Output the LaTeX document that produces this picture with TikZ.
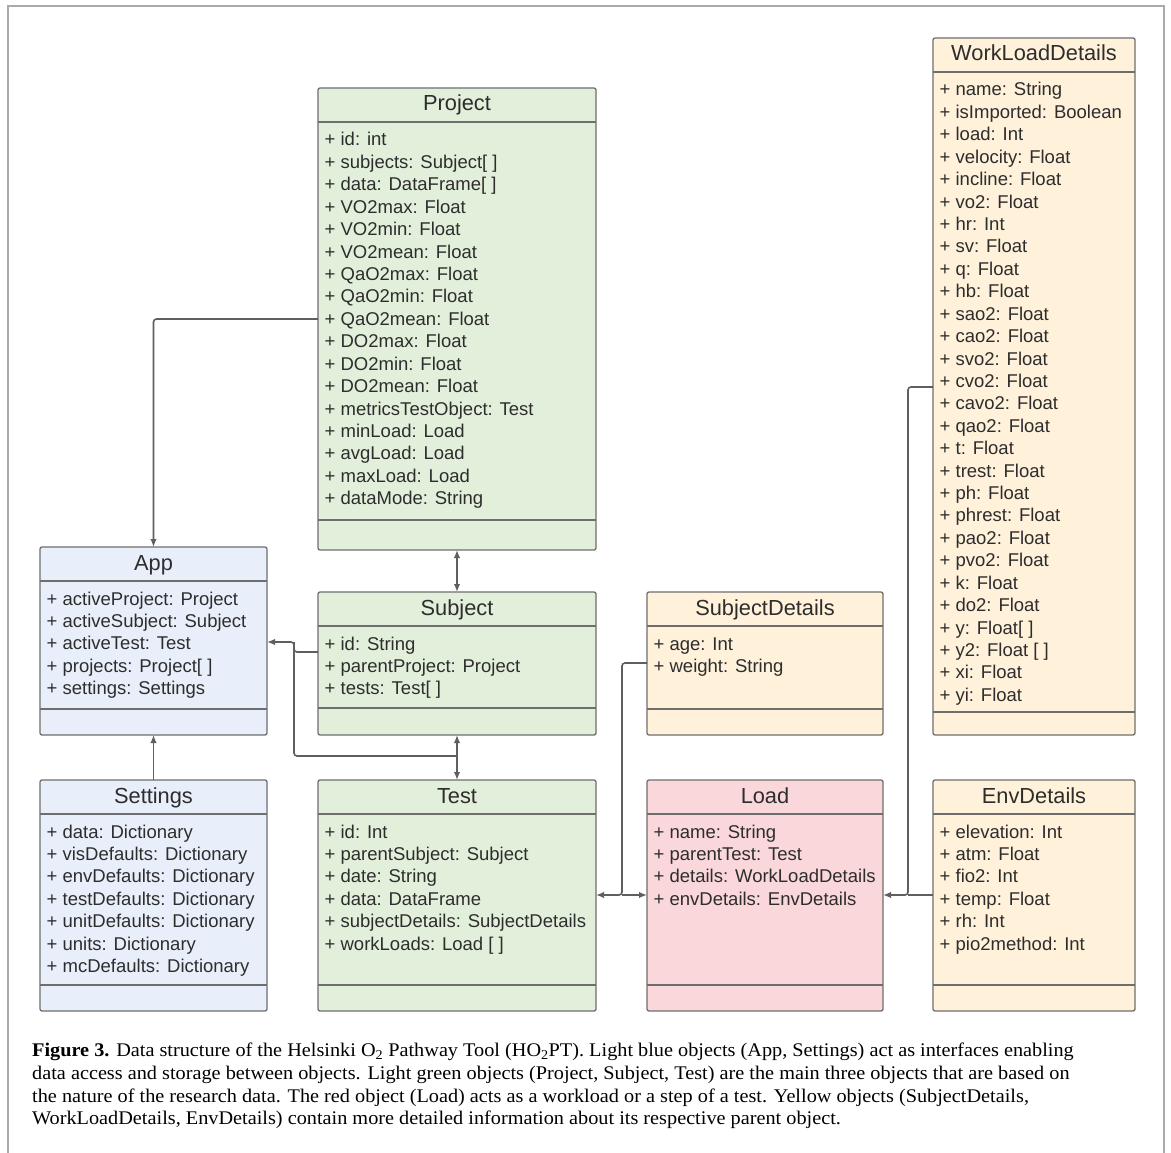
\documentclass[tikz,border=0pt]{standalone}
\usepackage{fontspec}
\setmainfont[FakeStretch=1.05]{Liberation Serif}
\newfontfamily\umlfont{Liberation Sans}
\usetikzlibrary{arrows.meta,calc}
\definecolor{gfill}{RGB}{226,240,219}
\definecolor{bfill}{RGB}{233,239,250}
\definecolor{yfill}{RGB}{255,241,218}
\definecolor{rfill}{RGB}{250,215,218}
\definecolor{edgecol}{RGB}{110,110,110}
\definecolor{txtcol}{RGB}{45,45,45}
\definecolor{conncol}{RGB}{95,95,95}
\definecolor{framecol}{RGB}{170,170,170}
\tikzset{
  boxnode/.style={draw=edgecol, line width=1.3pt, rounded corners=2pt, inner sep=0pt, outer sep=0pt},
  boxline/.style={draw=edgecol, line width=1.3pt},
  titletext/.style={font=\umlfont\fontsize{21.8}{24}\selectfont, text=txtcol, inner sep=0pt, anchor=base},
  rowtext/.style={font=\umlfont\fontsize{18.5}{22}\selectfont, text=txtcol, inner sep=0pt, anchor=base west},
  conn/.style={draw=conncol, line width=1.6pt, rounded corners=3pt},
  arrowend/.style={-{Latex[length=8pt,width=6.5pt]}},
  dblarrow/.style={{Latex[length=8pt,width=6.5pt]}-{Latex[length=8pt,width=6.5pt]}},
  captext/.style={font=\fontsize{19.3}{22.8}\selectfont, text=black, inner sep=0pt, anchor=base west},
}
\newcommand\umlbox[9]{%
  \node[boxnode, fill=#7, anchor=north west, minimum width={(#3-#2)*1pt}, minimum height={(#6-#4)*1pt}] (#1) at (#2,#4) {};
  \draw[boxline] (#2,{#4+34}) -- (#3,{#4+34});
  \draw[boxline] (#2,#5) -- (#3,#5);
  \node[titletext] (#1-title) at ({(#2+#3)/2},{#4+23}) {#8};
  \foreach \rowt [count=\i from 0] in {#9} {
    \node[rowtext] (#1-r\i) at ({#2+6.5},{#4+58+22.42*\i}) {\rowt};
  }
}
\begin{document}
\begin{tikzpicture}[x=1pt,y=-1pt]
\useasboundingbox (0,0) rectangle (1171,1153);
\fill[white] (0,0) rectangle (1171,1153);
\draw[framecol, line width=1.5pt] (8,1153) -- (8,6) -- (1164,6) -- (1164,1153);

\umlbox{project}{318}{596}{88}{520}{550}{gfill}{Project}{+ id: int, + subjects: Subject[ ], + data: DataFrame[ ], + VO2max: Float, + VO2min: Float, + VO2mean: Float, + QaO2max: Float, + QaO2min: Float, + QaO2mean: Float, + DO2max: Float, + DO2min: Float, + DO2mean: Float, + metricsTestObject: Test, + minLoad: Load, + avgLoad: Load, + maxLoad: Load, + dataMode: String}
\umlbox{app}{40}{267}{547}{709}{735}{bfill}{App}{+ activeProject: Project, + activeSubject: Subject, + activeTest: Test, + projects: Project[ ], + settings: Settings}
\umlbox{subject}{318}{596}{592}{708}{735}{gfill}{Subject}{+ id: String, + parentProject: Project, + tests: Test[ ]}
\umlbox{subjdet}{647}{883}{592}{709}{735}{yfill}{SubjectDetails}{+ age: Int, + weight: String}
\umlbox{settings}{40}{267}{780}{985}{1011}{bfill}{Settings}{+ data: Dictionary, + visDefaults: Dictionary, + envDefaults: Dictionary, + testDefaults: Dictionary, + unitDefaults: Dictionary, + units: Dictionary, + mcDefaults: Dictionary}
\umlbox{test}{318}{596}{780}{985}{1011}{gfill}{Test}{+ id: Int, + parentSubject: Subject, + date: String, + data: DataFrame, + subjectDetails: SubjectDetails, + workLoads: Load [ ]}
\umlbox{load}{647}{883}{780}{985}{1011}{rfill}{Load}{+ name: String, + parentTest: Test, + details: WorkLoadDetails, + envDetails: EnvDetails}
\umlbox{wld}{933}{1135}{38}{712}{735}{yfill}{WorkLoadDetails}{+ name: String, + isImported: Boolean, + load: Int, + velocity: Float, + incline: Float, + vo2: Float, + hr: Int, + sv: Float, + q: Float, + hb: Float, + sao2: Float, + cao2: Float, + svo2: Float, + cvo2: Float, + cavo2: Float, + qao2: Float, + t: Float, + trest: Float, + ph: Float, + phrest: Float, + pao2: Float, + pvo2: Float, + k: Float, + do2: Float, + y: Float[ ], + y2: Float [ ], + xi: Float, + yi: Float}
\umlbox{env}{933}{1135}{780}{985}{1011}{yfill}{EnvDetails}{+ elevation: Int, + atm: Float, + fio2: Int, + temp: Float, + rh: Int, + pio2method: Int}

% connector helper coordinates
\coordinate (y1) at (0,319);
\coordinate (y3) at (0,652);
\coordinate (bx) at (294,642);
\coordinate (y5) at (0,756);
\coordinate (y7) at (0,663);
\coordinate (j7) at (622,895);
\coordinate (y8) at (0,387);
\coordinate (j8) at (908,895);

\draw[conn,arrowend] (project.west |- y1) -| (app.north);
\draw[conn,dblarrow] (project.south) -- (subject.north);
\draw[conn,arrowend] (subject.west |- y3) -| (bx) -- (app.east |- bx);
\draw[conn,dblarrow] (subject.south) -- (test.north);
\draw[conn] (subject.south |- y5) -| (bx);
\draw[conn,arrowend] (settings.north) -- (app.south);
\draw[conn,arrowend] (subjdet.west |- y7) -| (j7) -- (test.east |- j7);
\draw[conn,arrowend] (j7) -- (load.west |- j7);
\draw[conn,arrowend] (wld.west |- y8) -| (j8) -- (load.east |- j8);
\draw[conn] (env.west |- j8) -- (j8);

\node[captext] (cap1) at (32,1056) {\textbf{Figure 3.} Data structure of the Helsinki O\textsubscript{2} Pathway Tool (HO\textsubscript{2}PT). Light blue objects (App, Settings) act as interfaces enabling};
\node[captext] (cap2) at (32,1079) {data access and storage between objects. Light green objects (Project, Subject, Test) are the main three objects that are based on};
\node[captext] (cap3) at (32,1102) {the nature of the research data. The red object (Load) acts as a workload or a step of a test. Yellow objects (SubjectDetails,};
\node[captext] (cap4) at (32,1124) {WorkLoadDetails, EnvDetails) contain more detailed information about its respective parent object.};
\end{tikzpicture}
\end{document}
